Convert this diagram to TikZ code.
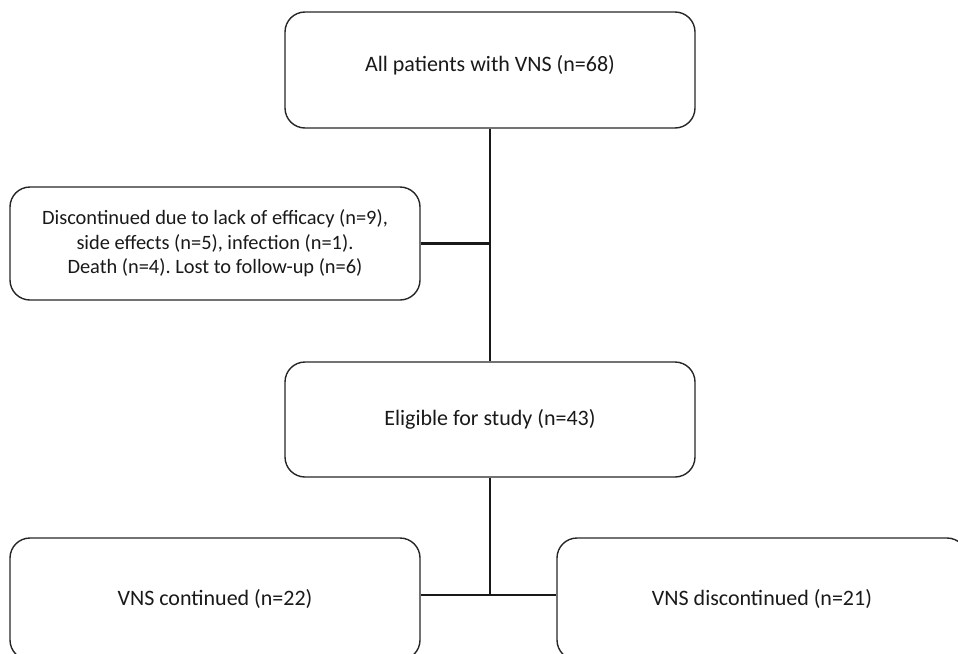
\documentclass[tikz,border=0pt]{standalone}
\usepackage{fontspec}
\setmainfont{Carlito}
\frenchspacing
\begin{document}
\begin{tikzpicture}[x=1pt,y=-1pt,
  box/.style={draw=black!85,line width=1.4pt,rounded corners=20pt,minimum width=410pt,inner sep=0pt,align=center,font=\fontsize{22}{24.5}\selectfont,text=black!90},
  conn/.style={draw=black!90,line width=2.6pt}]
\useasboundingbox (0,0) rectangle (958,653);
\clip (0,0) rectangle (958,653);
\node[box,minimum height=116pt] (top) at (490,70) {\raisebox{13pt}{All patients with VNS (n=68)}};
\node[box,minimum height=113pt,font=\fontsize{20.4}{24.5}\selectfont] (excl) at (215,243.5) {Discontinued due to lack of efficacy (n=9),\\side effects (n=5), infection (n=1).\\Death (n=4). Lost to follow-up (n=6)};
\node[box,minimum height=115pt] (elig) at (490,419.5) {Eligible for study (n=43)};
\node[box,minimum height=122pt] (cont) at (215,599) {VNS continued (n=22)};
\node[box,minimum height=122pt] (disc) at (762,599) {VNS discontinued (n=21)};
\draw[conn] (top.south) -- (elig.north);
\draw[conn] (excl.east) -- (top.south |- excl.east);
\draw[conn] (elig.south) -- (elig.south |- 0,595) coordinate (j);
\draw[conn] (cont.east |- j) -- (disc.west |- j);
\end{tikzpicture}
\end{document}
